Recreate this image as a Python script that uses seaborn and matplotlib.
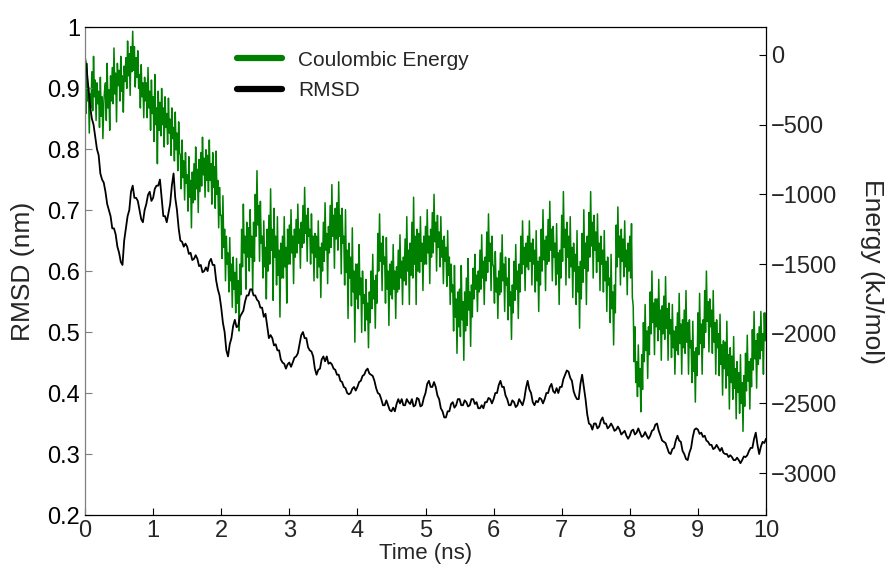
import numpy as np
import pandas as pd
import matplotlib.pyplot as plt
import seaborn as sns

# Coulombic energy (kJ/mol), every 0.0125 ns (8 samples per 0.1 ns)
energy = [
    -150, -420, -60, -330, -230, -560, -280, -380,
    -120, -400, -10, -300, -180, -470, -200, -350,
    -260, -520, -160, -440, -300, -600, -350, -250,
    -200, -470, -60, -380, -250, -540, -150, -330,
    -90, -350, 50, -280, -130, -480, -60, -220,
    -110, -330, -10, -260, -150, -410, -80, -190,
    -20, -240, 100, -150, 10, -290, 60, -120,
    170, -110, 60, -230, -20, -160, 30, -240,
    -140, -380, -70, -300, -200, -450, -160, -330,
    -200, -450, -90, -380, -260, -540, -180, -420,
    -300, -620, -140, -500, -380, -780, -260, -540,
    -340, -580, -240, -500, -380, -660, -300, -520,
    -420, -640, -310, -560, -460, -720, -380, -600,
    -520, -760, -410, -680, -560, -830, -480, -700,
    -720, -960, -610, -880, -760, -1040, -700, -920,
    -860, -1120, -730, -1020, -900, -1240, -840, -1060,
    -780, -1040, -660, -960, -820, -1130, -750, -980,
    -700, -940, -590, -860, -740, -1020, -680, -900,
    -720, -980, -610, -900, -780, -1070, -700, -950,
    -800, -1100, -690, -1000, -900, -1240, -950, -1150,
    -1150, -1460, -1010, -1380, -1250, -1620, -1300, -1500,
    -1420, -1700, -1310, -1620, -1500, -1810, -1450, -1680,
    -1560, -1850, -1460, -1780, -1620, -1980, -1500, -1720,
    -1250, -1520, -1070, -1420, -1300, -1680, -1200, -1450,
    -1240, -1550, -1110, -1450, -1300, -1690, -1200, -1480,
    -1000, -1300, -830, -1220, -1080, -1480, -1050, -1350,
    -1300, -1600, -1190, -1520, -1380, -1750, -1250, -1550,
    -1150, -1500, -960, -1400, -1250, -1760, -1100, -1450,
    -1300, -1650, -1160, -1580, -1400, -1880, -1350, -1600,
    -1300, -1600, -1160, -1520, -1380, -1780, -1250, -1500,
    -1220, -1500, -1110, -1420, -1300, -1640, -1250, -1450,
    -1180, -1420, -1070, -1350, -1250, -1530, -1200, -1380,
    -1080, -1350, -950, -1280, -1150, -1480, -1100, -1300,
    -1250, -1500, -1140, -1420, -1300, -1620, -1280, -1450,
    -1300, -1600, -1190, -1520, -1380, -1740, -1350, -1550,
    -1200, -1480, -1060, -1400, -1280, -1640, -1230, -1420,
    -1080, -1380, -930, -1300, -1150, -1530, -1100, -1320,
    -1060, -1400, -910, -1300, -1150, -1570, -1100, -1350,
    -1300, -1650, -1110, -1560, -1400, -1890, -1350, -1600,
    -1450, -1800, -1240, -1700, -1550, -2060, -1500, -1750,
    -1500, -1820, -1360, -1720, -1600, -1990, -1550, -1780,
    -1720, -1980, -1610, -1900, -1780, -2100, -1700, -1920,
    -1550, -1820, -1430, -1750, -1620, -1960, -1580, -1780,
    -1280, -1550, -1140, -1480, -1350, -1690, -1300, -1500,
    -1450, -1780, -1310, -1680, -1550, -1940, -1500, -1720,
    -1480, -1750, -1360, -1680, -1550, -1890, -1520, -1700,
    -1400, -1680, -1290, -1600, -1480, -1790, -1450, -1620,
    -1320, -1650, -1160, -1550, -1400, -1790, -1350, -1580,
    -1200, -1600, -1020, -1500, -1300, -1790, -1250, -1550,
    -1280, -1560, -1160, -1480, -1350, -1690, -1300, -1500,
    -1230, -1500, -1110, -1420, -1300, -1640, -1250, -1450,
    -1130, -1420, -1000, -1340, -1200, -1550, -1150, -1380,
    -1270, -1520, -1160, -1450, -1330, -1640, -1300, -1480,
    -1380, -1660, -1260, -1580, -1450, -1790, -1500, -1700,
    -1650, -1980, -1510, -1880, -1750, -2140, -1700, -1950,
    -1680, -2020, -1510, -1900, -1770, -2190, -1700, -1980,
    -1600, -1940, -1460, -1830, -1700, -2090, -1650, -1880,
    -1530, -1750, -1430, -1680, -1580, -1840, -1550, -1700,
    -1400, -1680, -1290, -1600, -1480, -1790, -1450, -1620,
    -1270, -1560, -1140, -1480, -1350, -1690, -1300, -1500,
    -1520, -1780, -1410, -1700, -1600, -1890, -1550, -1720,
    -1420, -1700, -1290, -1620, -1500, -1840, -1450, -1650,
    -1600, -1900, -1460, -1800, -1700, -2040, -1650, -1850,
    -1480, -1760, -1360, -1680, -1550, -1890, -1500, -1700,
    -1300, -1570, -1190, -1500, -1380, -1690, -1350, -1520,
    -1300, -1540, -1190, -1480, -1350, -1650, -1320, -1500,
    -1400, -1700, -1260, -1620, -1480, -1840, -1450, -1650,
    -1250, -1550, -1110, -1470, -1330, -1690, -1300, -1500,
    -1180, -1480, -1050, -1400, -1250, -1620, -1230, -1450,
    -1350, -1650, -1210, -1570, -1420, -1790, -1400, -1600,
    -1150, -1480, -980, -1380, -1250, -1650, -1200, -1450,
    -1300, -1600, -1160, -1520, -1380, -1740, -1350, -1550,
    -1430, -1790, -1260, -1700, -1520, -1960, -1480, -1750,
    -1280, -1630, -1110, -1530, -1350, -1790, -1300, -1550,
    -1130, -1450, -980, -1370, -1200, -1600, -1150, -1400,
    -1270, -1560, -1140, -1480, -1350, -1690, -1300, -1500,
    -1400, -1700, -1260, -1620, -1480, -1840, -1450, -1650,
    -1600, -1920, -1430, -1820, -1700, -2080, -1650, -1850,
    -1220, -1520, -1090, -1450, -1300, -1650, -1250, -1480,
    -1320, -1590, -1190, -1520, -1400, -1720, -1350, -1550,
    -1300, -1600, -1210, -1740, -1800, -2200, -1950, -2350,
    -2200, -2450, -2080, -2380, -2250, -2560, -2150, -2400,
    -1920, -2200, -1790, -2120, -1980, -2320, -1950, -2150,
    -1700, -2000, -1550, -1920, -1780, -2150, -1750, -1950,
    -1750, -2050, -1610, -1970, -1830, -2190, -1800, -2000,
    -1730, -2040, -1590, -1960, -1820, -2190, -1780, -2000,
    -1900, -2170, -1790, -2100, -1980, -2290, -1950, -2120,
    -1850, -2150, -1710, -2070, -1930, -2290, -1900, -2100,
    -1830, -2140, -1690, -2060, -1920, -2290, -1900, -2100,
    -2050, -2350, -1910, -2270, -2130, -2490, -2100, -2300,
    -1850, -2150, -1710, -2070, -1930, -2290, -1900, -2100,
    -1690, -1990, -1550, -1910, -1770, -2130, -1750, -1950,
    -1830, -2140, -1690, -2060, -1920, -2290, -1900, -2100,
    -2000, -2300, -1860, -2220, -2080, -2440, -2050, -2250,
    -2060, -2390, -1910, -2300, -2150, -2540, -2100, -2350,
    -2160, -2470, -2020, -2390, -2250, -2610, -2200, -2420,
    -2280, -2570, -2150, -2500, -2350, -2700, -2300, -2520,
    -2140, -2410, -2010, -2340, -2200, -2540, -2180, -2380,
    -1970, -2260, -1840, -2180, -2050, -2390, -2000, -2220,
    -1950, -2180, -1840, -2120, -2000, -2290, -1850, -2050,
    -1850,
]

# backbone RMSD (nm), every 0.025 ns
rmsd = [
    0.95, 0.93, 0.90, 0.87, 0.85, 0.84, 0.82, 0.80, 0.79, 0.76, 0.75, 0.745, 0.73, 0.71, 0.70, 0.69, 0.67, 0.67, 0.66, 0.64,
    0.63, 0.615, 0.61, 0.65, 0.67, 0.69, 0.70, 0.73, 0.74, 0.72, 0.72, 0.715, 0.70, 0.685, 0.68, 0.70, 0.71, 0.725, 0.73, 0.715,
    0.72, 0.735, 0.74, 0.74, 0.75, 0.72, 0.69, 0.69, 0.68, 0.695, 0.71, 0.74, 0.76, 0.72, 0.70, 0.67, 0.65, 0.648, 0.64, 0.645,
    0.64, 0.628, 0.63, 0.618, 0.62, 0.626, 0.62, 0.608, 0.61, 0.598, 0.60, 0.606, 0.60, 0.615, 0.62, 0.61, 0.61, 0.585, 0.57, 0.56,
    0.54, 0.515, 0.50, 0.47, 0.46, 0.48, 0.49, 0.51, 0.52, 0.508, 0.51, 0.525, 0.53, 0.535, 0.55, 0.56, 0.56, 0.57, 0.57, 0.56,
    0.56, 0.553, 0.55, 0.54, 0.54, 0.525, 0.53, 0.51, 0.49, 0.495, 0.49, 0.478, 0.48, 0.47, 0.47, 0.455, 0.45, 0.448, 0.44, 0.447,
    0.45, 0.443, 0.45, 0.458, 0.46, 0.465, 0.48, 0.495, 0.50, 0.49, 0.49, 0.475, 0.47, 0.468, 0.46, 0.44, 0.43, 0.438, 0.44, 0.455,
    0.46, 0.452, 0.46, 0.448, 0.45, 0.447, 0.44, 0.438, 0.43, 0.43, 0.42, 0.418, 0.41, 0.408, 0.40, 0.398, 0.40, 0.407, 0.41, 0.404,
    0.41, 0.418, 0.42, 0.428, 0.43, 0.437, 0.44, 0.432, 0.43, 0.428, 0.42, 0.408, 0.40, 0.398, 0.39, 0.38, 0.38, 0.388, 0.38, 0.372,
    0.37, 0.376, 0.37, 0.382, 0.39, 0.383, 0.39, 0.38, 0.38, 0.39, 0.385, 0.382, 0.39, 0.378, 0.38, 0.392, 0.39, 0.378, 0.38, 0.392,
    0.40, 0.415, 0.42, 0.41, 0.41, 0.418, 0.41, 0.396, 0.39, 0.375, 0.37, 0.36, 0.36, 0.37, 0.37, 0.382, 0.385, 0.376, 0.38, 0.39,
    0.39, 0.38, 0.38, 0.388, 0.385, 0.378, 0.38, 0.39, 0.39, 0.382, 0.385, 0.375, 0.375, 0.38, 0.375, 0.385, 0.385, 0.392, 0.39, 0.383,
    0.39, 0.40, 0.40, 0.413, 0.42, 0.41, 0.41, 0.396, 0.39, 0.38, 0.38, 0.388, 0.385, 0.377, 0.38, 0.39, 0.385, 0.38, 0.39, 0.408,
    0.42, 0.406, 0.40, 0.385, 0.38, 0.387, 0.385, 0.392, 0.39, 0.383, 0.39, 0.40, 0.40, 0.41, 0.415, 0.403, 0.40, 0.408, 0.40, 0.41,
    0.41, 0.423, 0.43, 0.437, 0.435, 0.425, 0.42, 0.403, 0.395, 0.39, 0.39, 0.415, 0.43, 0.41, 0.39, 0.365, 0.35, 0.348, 0.34, 0.35,
    0.35, 0.342, 0.345, 0.355, 0.36, 0.35, 0.35, 0.342, 0.345, 0.35, 0.345, 0.338, 0.34, 0.345, 0.34, 0.332, 0.335, 0.338, 0.33, 0.325,
    0.33, 0.338, 0.34, 0.332, 0.335, 0.342, 0.335, 0.328, 0.33, 0.336, 0.33, 0.325, 0.33, 0.338, 0.34, 0.348, 0.35, 0.338, 0.33, 0.322,
    0.32, 0.318, 0.31, 0.302, 0.30, 0.308, 0.31, 0.322, 0.33, 0.322, 0.32, 0.305, 0.30, 0.292, 0.29, 0.302, 0.31, 0.328, 0.34, 0.342,
    0.34, 0.333, 0.335, 0.328, 0.33, 0.322, 0.32, 0.315, 0.315, 0.308, 0.31, 0.315, 0.31, 0.305, 0.31, 0.302, 0.30, 0.30, 0.295, 0.298,
    0.295, 0.29, 0.29, 0.294, 0.29, 0.285, 0.29, 0.296, 0.295, 0.298, 0.305, 0.31, 0.31, 0.325, 0.335, 0.315, 0.30, 0.312, 0.32, 0.318,
    0.325,
]

df_e = pd.DataFrame({"time": np.linspace(0, 10, len(energy)), "energy": energy})
df_r = pd.DataFrame({"time": np.linspace(0, 10, len(rmsd)), "rmsd": rmsd})

sns.set_style("ticks", {"xtick.direction": "in", "ytick.direction": "in"})
plt.rcParams['font.family'] = ['Liberation Sans', 'DejaVu Sans']

fig = plt.figure(figsize=(8.96, 5.68), dpi=100)
ax1 = fig.add_axes([0.0949, 0.0933, 0.760, 0.859])
ax2 = ax1.twinx()

sns.lineplot(ax=ax2, data=df_e, x="time", y="energy", color="#008000", lw=1.1,
             label="Coulombic Energy", legend=False)
sns.lineplot(ax=ax1, data=df_r, x="time", y="rmsd", color="black", lw=1.3,
             label="RMSD", legend=False)

# black line drawn over the green one
ax1.set_zorder(ax2.get_zorder() + 1)
ax1.patch.set_visible(False)

ax1.set_xlim(0, 10)
ax1.set_xticks(range(0, 11))
ax1.set_ylim(0.2, 1.0)
ax1.set_yticks([0.2, 0.3, 0.4, 0.5, 0.6, 0.7, 0.8, 0.9, 1.0])
ax1.set_yticklabels(['0.2', '0.3', '0.4', '0.5', '0.6', '0.7', '0.8', '0.9', '1'])
ax2.set_ylim(-3300, 200)
ax2.set_yticks([-3000, -2500, -2000, -1500, -1000, -500, 0])

ax1.set_xlabel("Time (ns)", fontsize=16, labelpad=1)
ax1.set_ylabel("RMSD (nm)", fontsize=19, labelpad=9)
ax2.set_ylabel("Energy (kJ/mol)", fontsize=19, rotation=270, labelpad=34)

ax1.tick_params(labelsize=17, length=5, width=0.8, color="black")
ax2.tick_params(labelsize=17, length=5, width=0.8, color="black")
ax1.tick_params(axis="y", colors="#7f7f7f", labelcolor="black", right=False)
ax2.tick_params(axis="y", left=False, right=True)

for name, s in ax1.spines.items():
    s.set_visible(name != "right")
    s.set_color("black")
    s.set_linewidth(0.9)
ax1.spines["left"].set_color("#7f7f7f")
for name, s in ax2.spines.items():
    s.set_visible(name == "right")
    s.set_color("black")
    s.set_linewidth(0.9)

h1, l1 = ax1.get_legend_handles_labels()
h2, l2 = ax2.get_legend_handles_labels()
leg = ax1.legend(h2 + h1, l2 + l1, loc="upper left", bbox_to_anchor=(0.195, 0.99),
                 frameon=False, fontsize=15, handlelength=2.2, handletextpad=0.75,
                 labelspacing=0.55)
for line in leg.get_lines():
    line.set_linewidth(4.5)

fig.savefig("out.png", dpi=100)
